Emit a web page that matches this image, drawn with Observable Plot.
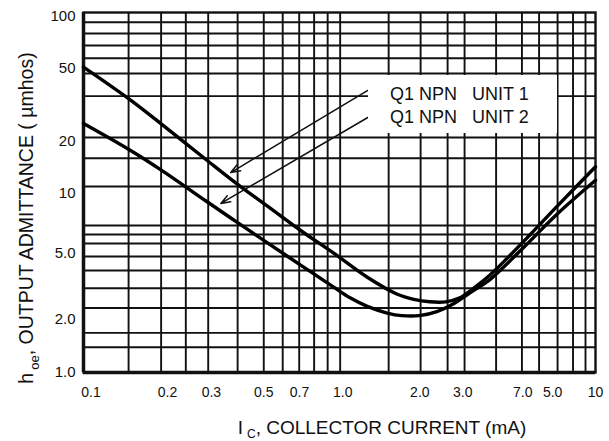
<!DOCTYPE html>
<html><head><meta charset="utf-8">
<script src="https://cdn.jsdelivr.net/npm/d3@7"></script>
<script src="https://cdn.jsdelivr.net/npm/@observablehq/plot@0.6"></script>
<style>
body{margin:0;background:#fff;}
#chart{position:relative;width:609px;height:441px;}
</style></head>
<body><div id="chart"></div>
<script>
// Collector current (mA) and output admittance (µmhos)
const unit1Current = [0.1, 0.15, 0.2, 0.3, 0.4, 0.523, 0.705, 0.949, 1.284, 1.682, 1.95, 2.25, 2.6, 2.95, 3.3, 3.89, 5.24, 7.09, 10];
const unit1Admit   = [49.7, 33.2, 24.2, 15.3, 11.1, 8.4, 6.15, 4.6, 3.38, 2.72, 2.55, 2.47, 2.47, 2.6, 2.9, 3.5, 5.35, 8.4, 13.9];
const unit2Current = [0.1, 0.15, 0.2, 0.3, 0.4, 0.523, 0.705, 0.949, 1.1, 1.284, 1.536, 1.75, 2.05, 2.4, 2.8, 3.3, 3.89, 5.236, 7.088, 10];
const unit2Admit   = [24.2, 17.4, 13.4, 9.0, 6.8, 5.25, 3.95, 2.98, 2.6, 2.33, 2.14, 2.07, 2.07, 2.18, 2.42, 2.82, 3.3, 4.95, 7.6, 11.7];

// grid lines as printed on the sheet
const gridX = [0.15, 0.201, 0.251, 0.307, 0.40, 0.506, 0.60, 0.696, 0.796, 0.899, 1.006, 1.556, 2.074, 2.644, 3.08, 4.09, 5.16, 6.02, 7.11, 8.17, 9.14];
const gridY = [88.3, 76.4, 65.6, 55.7, 45.8, 34.3, 20.2, 15.5, 10.8, 6.56, 5.84, 5.21, 4.41, 3.69, 2.94, 2.28, 1.66, 1.38];

// tick labels (as printed, including the swapped 7.0 / 5.0)
const xTickValues = [0.107, 0.213, 0.316, 0.506, 0.698, 1.03, 2.06, 3.03, 5.2, 6.8, 10];
const xTickLabels = ["0.1", "0.2", "0.3", "0.5", "0.7", "1.0", "2.0", "3.0", "7.0", "5.0", "10"];
const yTickValues = [96, 49, 19.3, 9.9, 4.6, 1.97, 1.0];
const yTickLabels = ["100", "50", "20", "10", "5.0", "2.0", "1.0"];

// legend entries and their pointer arrows (from legend to curve)
const legendLabels = ["Q1 NPN", "Q1 NPN"];
const legendUnits = ["UNIT 1", "UNIT 2"];
const arrowFromX = [1.29, 1.29];
const arrowFromY = [36.9, 26.1];
const arrowToX = [0.376, 0.344];
const arrowToY = [12.9, 8.69];

const FONT = "'Liberation Sans', Arial, Helvetica, sans-serif";

const plot = Plot.plot({
  width: 609, height: 441,
  marginLeft: 83, marginRight: 14, marginTop: 12, marginBottom: 69,
  style: {fontFamily: FONT, fontSize: "15px", color: "#111", background: "#fff", overflow: "visible"},
  x: {type: "log", domain: [0.1, 10], axis: null},
  y: {type: "log", domain: [1, 100], axis: null},
  marks: [
    Plot.ruleX(gridX, {stroke: "#111", strokeWidth: 1.9}),
    Plot.ruleY(gridY, {stroke: "#111", strokeWidth: 1.9}),
    Plot.frame({stroke: "#111", strokeWidth: 2.4}),
    Plot.ruleX([0.1], {stroke: "#111", strokeWidth: 3.5}),
    Plot.ruleY([1], {stroke: "#111", strokeWidth: 3.5}),
    Plot.line(unit1Admit, {x: unit1Current, y: unit1Admit, curve: "catmull-rom", stroke: "#000", strokeWidth: 3.4}),
    Plot.line(unit2Admit, {x: unit2Current, y: unit2Admit, curve: "catmull-rom", stroke: "#000", strokeWidth: 3.4}),
    Plot.arrow(arrowFromX, {x1: arrowFromX, y1: arrowFromY, x2: arrowToX, y2: arrowToY, stroke: "#111", strokeWidth: 1.5, headLength: 10, headAngle: 40}),
    Plot.text(xTickValues, {x: d => d, text: (d, i) => xTickLabels[i], frameAnchor: "bottom", dy: 24, fontSize: 14, fill: "#111"}),
    Plot.text(yTickValues, {y: d => d, text: (d, i) => yTickLabels[i], frameAnchor: "left", textAnchor: "end", dx: -8, fontSize: 15, fill: "#111"})
  ]
});
document.getElementById("chart").appendChild(plot);

const svg = d3.select(plot);
// legend box
const lg = svg.append("g").attr("font-family", FONT).attr("font-size", 18).attr("fill", "#111").attr("text-anchor", "start");
lg.append("rect").attr("x", 368).attr("y", 75).attr("width", 189).attr("height", 58).attr("fill", "#fff");
legendLabels.forEach((t, i) => {
  lg.append("text").attr("x", 390).attr("y", 100 + i * 23).text(t);
  lg.append("text").attr("x", 472).attr("y", 100 + i * 23).text(legendUnits[i]);
});

// x axis title with subscript
const xt = svg.append("text").attr("font-family", FONT).attr("font-size", 19).attr("fill", "#111")
  .attr("text-anchor", "middle").attr("x", 382).attr("y", 434);
xt.append("tspan").text("I");
xt.append("tspan").attr("dx", 4).attr("dy", 4).attr("font-size", 12).text("C");
xt.append("tspan").attr("dy", -4).text(", COLLECTOR CURRENT (mA)");

// y axis title with subscript
const yt = svg.append("text").attr("font-family", FONT).attr("font-size", 19.5).attr("fill", "#111")
  .attr("text-anchor", "middle").attr("transform", "translate(33,218) rotate(-90)");
yt.append("tspan").text("h");
yt.append("tspan").attr("dx", 3).attr("dy", 6).attr("font-size", 13).text("oe");
yt.append("tspan").attr("dy", -6).text(", OUTPUT ADMITTANCE ( µmhos)");
</script>
</body></html>
